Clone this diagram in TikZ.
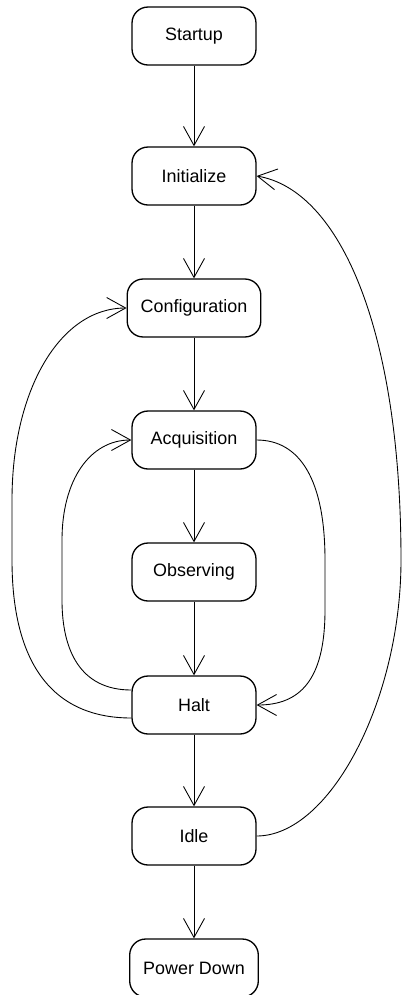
\documentclass[tikz,border=0pt]{standalone}
\usepackage{fontspec}
\setmainfont{Liberation Sans}
\usetikzlibrary{arrows.meta}

\begin{document}
\begin{tikzpicture}[x=0.02cm, y=-0.02cm,
    state/.style={draw, line width=0.75pt, rounded corners=0.32cm, minimum width=2.48cm,
      minimum height=1.16cm, inner xsep=0.27cm, font=\fontsize{10.2}{12}\selectfont},
    trans/.style={line width=0.5pt, -{Straight Barb[length=0.38cm, width=0.42cm]}}]
    \useasboundingbox (0,0) rectangle (403,995);

    \foreach \name/\txt/\y in {start/Startup/36, init/Initialize/176, conf/Configuration/308,
      acq/Acquisition/440, obs/Observing/572, halt/Halt/705, idle/Idle/836, down/Power Down/968}
      \node[state] (\name) at (194,\y) {\txt};

    \foreach \a/\b in {start/init, init/conf, conf/acq, acq/obs, obs/halt, halt/idle, idle/down}
      \draw[trans] (\a) -- (\b);

    \draw[trans] (idle.east) .. controls (330,836) and (401,700) .. (401,560)
      .. controls (401,330) and (340,190) .. (init.east);
    \draw[trans] (acq.east) .. controls (300,440) and (325,480) .. (325,560) -- (325,610)
      .. controls (325,680) and (300,705) .. (halt.east);
    \draw[trans] ([yshift=0.3cm]halt.west) .. controls (80,690) and (62,650) .. (62,600) -- (62,540)
      .. controls (62,480) and (90,440) .. (acq.west);
    \draw[trans] ([yshift=-0.26cm]halt.west) .. controls (50,718) and (12,660) .. (12,560) -- (12,500)
      .. controls (12,390) and (60,308) .. (conf.west);
\end{tikzpicture}
\end{document}
